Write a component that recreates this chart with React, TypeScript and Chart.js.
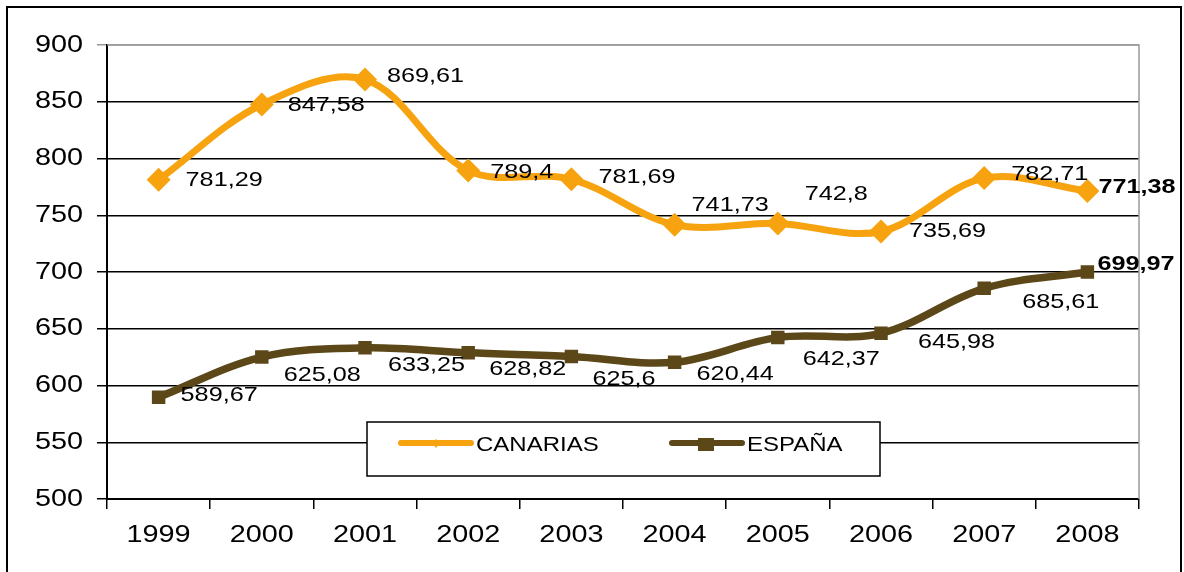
import React, { useEffect, useRef } from "react";
import { Chart, registerables } from "chart.js";

Chart.register(...registerables);

const years = ["1999", "2000", "2001", "2002", "2003", "2004", "2005", "2006", "2007", "2008"];
const canarias = [781.29, 847.58, 869.61, 789.4, 781.69, 741.73, 742.8, 735.69, 782.71, 771.38];
const espana = [589.67, 625.08, 633.25, 628.82, 625.6, 620.44, 642.37, 645.98, 685.61, 699.97];
const seriesNames = ["CANARIAS", "ESPAÑA"];

const ORANGE = "#F6A30F";
const BROWN = "#5C4719";
const FONT = "'Liberation Sans', Arial, sans-serif";
const TEXT_STRETCH = 1.2;

const labelOffsets = [
  { dx: [27, 26, 22, 22, 27, 17, 27, 28, 27, 11], dy: [0, 1, -3, 2, -2, -19, -29, 0, -4, -4] },
  { dx: [22, 22, 23, 21, 21, 22, 25, 37, 38, 10], dy: [-2, 18, 17, 16, 23, 12, 22, 9, 14, -8] },
];

const fmt = (v: number) => String(v).replace(".", ",");

const labelPlugin = {
  id: "valueLabels",
  afterDatasetsDraw(chart: any) {
    const ctx = chart.ctx;
    ctx.save();
    ctx.fillStyle = "#000";
    ctx.textBaseline = "middle";
    ctx.textAlign = "left";
    chart.data.datasets.forEach((ds: any, di: number) => {
      const meta = chart.getDatasetMeta(di);
      meta.data.forEach((pt: any, i: number) => {
        const last = i === meta.data.length - 1;
        ctx.font = `${last ? "bold " : ""}21px ${FONT}`;
        const o = labelOffsets[di];
        ctx.fillText(fmt(ds.data[i]), pt.x + o.dx[i], pt.y + o.dy[i]);
      });
    });
    ctx.restore();
  },
};

const framePlugin = {
  id: "plotFrame",
  beforeDatasetsDraw(chart: any) {
    const { ctx, chartArea: a } = chart;
    ctx.save();
    ctx.strokeStyle = "#9a9a9a";
    ctx.lineWidth = 1.5;
    ctx.beginPath();
    ctx.moveTo(a.left, a.top);
    ctx.lineTo(a.right, a.top);
    ctx.lineTo(a.right, a.bottom);
    ctx.stroke();
    ctx.restore();
  },
};

const legendPlugin = {
  id: "boxLegend",
  afterDraw(chart: any) {
    const ctx = chart.ctx;
    const a = chart.chartArea;
    const bx = a.left + 260;
    const by = a.top + 377;
    const bw = 513;
    const bh = 54;
    ctx.save();
    ctx.fillStyle = "#fff";
    ctx.fillRect(bx, by, bw, bh);
    ctx.strokeStyle = "#000";
    ctx.lineWidth = 1.5;
    ctx.strokeRect(bx, by, bw, bh);
    const items = [
      { x: bx + 34, color: ORANGE, marker: "diamond" },
      { x: bx + 305, color: BROWN, marker: "square" },
    ];
    const cy = by + 21;
    ctx.font = `20px ${FONT}`;
    ctx.textBaseline = "middle";
    ctx.textAlign = "left";
    items.forEach((it, i) => {
      ctx.strokeStyle = it.color;
      ctx.lineWidth = 6;
      ctx.lineCap = "round";
      ctx.beginPath();
      ctx.moveTo(it.x, cy);
      ctx.lineTo(it.x + 70, cy);
      ctx.stroke();
      ctx.fillStyle = it.color;
      const mx = it.x + 35;
      if (it.marker === "diamond") {
        ctx.beginPath();
        ctx.moveTo(mx, cy - 4);
        ctx.lineTo(mx + 4, cy);
        ctx.lineTo(mx, cy + 5);
        ctx.lineTo(mx - 4, cy);
        ctx.closePath();
        ctx.fill();
      } else {
        ctx.fillRect(mx - 9, cy - 5, 16, 13);
      }
      ctx.fillStyle = "#000";
      ctx.fillText(seriesNames[i], it.x + 75, cy + 2);
    });
    ctx.restore();
  },
};

export default function App() {
  const ref = useRef<HTMLCanvasElement>(null);
  useEffect(() => {
    if (!ref.current) return;
    const c2d: any = ref.current.getContext("2d");
    const origFill = c2d.fillText;
    c2d.fillText = function (text: string, x: number, y: number, maxWidth?: number) {
      this.save();
      this.translate(x, y);
      this.scale(TEXT_STRETCH, 1);
      if (maxWidth === undefined) origFill.call(this, text, 0, 0);
      else origFill.call(this, text, 0, 0, maxWidth / TEXT_STRETCH);
      this.restore();
    };
    const chart = new Chart(ref.current, {
      type: "line",
      data: {
        labels: years,
        datasets: [
          {
            label: seriesNames[0],
            data: canarias,
            borderColor: ORANGE,
            backgroundColor: ORANGE,
            borderWidth: 7,
            tension: 0.35,
            pointStyle: "rectRot",
            pointRadius: 12,
            pointBorderWidth: 0,
          },
          {
            label: seriesNames[1],
            data: espana,
            borderColor: BROWN,
            backgroundColor: BROWN,
            borderWidth: 7.5,
            tension: 0.35,
            pointStyle: "rect",
            pointRadius: 9.5,
            pointBorderWidth: 0,
          },
        ],
      },
      options: {
        animation: false,
        responsive: false,
        maintainAspectRatio: false,
        layout: { padding: { left: 0, right: 45, top: 45, bottom: 0 } },
        plugins: {
          legend: { display: false },
          tooltip: { enabled: false },
        },
        scales: {
          x: {
            offset: true,
            grid: {
              offset: true,
              drawOnChartArea: false,
              drawTicks: true,
              tickLength: 10,
              color: "#000",
              lineWidth: 1.5,
            },
            border: { color: "#000", width: 2 },
            ticks: {
              color: "#000",
              font: { family: FONT, size: 24 },
              padding: 12,
              maxRotation: 0,
              autoSkip: false,
            },
            afterFit(s: any) {
              s.height = 73;
            },
          },
          y: {
            min: 500,
            max: 900,
            ticks: {
              stepSize: 50,
              color: "#000",
              font: { family: FONT, size: 24 },
              padding: 14,
            },
            grid: {
              color: (c: any) => (c.tick && c.tick.value === 900 ? "#9a9a9a" : "#000"),
              lineWidth: 1.5,
              tickLength: 10,
            },
            border: { color: "#000", width: 2 },
            afterFit(s: any) {
              s.width = 107;
            },
          },
        },
      },
      plugins: [framePlugin, labelPlugin, legendPlugin],
    });
    return () => {
      chart.destroy();
      c2d.fillText = origFill;
    };
  }, []);

  return (
    <div style={{ position: "fixed", left: 0, top: 0, width: 1184, height: 572, overflow: "hidden", background: "#fff" }}>
      <canvas ref={ref} width={1184} height={572} style={{ position: "absolute", left: 0, top: 0, width: 1184, height: 572 }} />
      <div
        style={{
          position: "absolute",
          left: 6,
          top: 6,
          width: 1172,
          height: 600,
          border: "2px solid #000",
          pointerEvents: "none",
        }}
      />
    </div>
  );
}
